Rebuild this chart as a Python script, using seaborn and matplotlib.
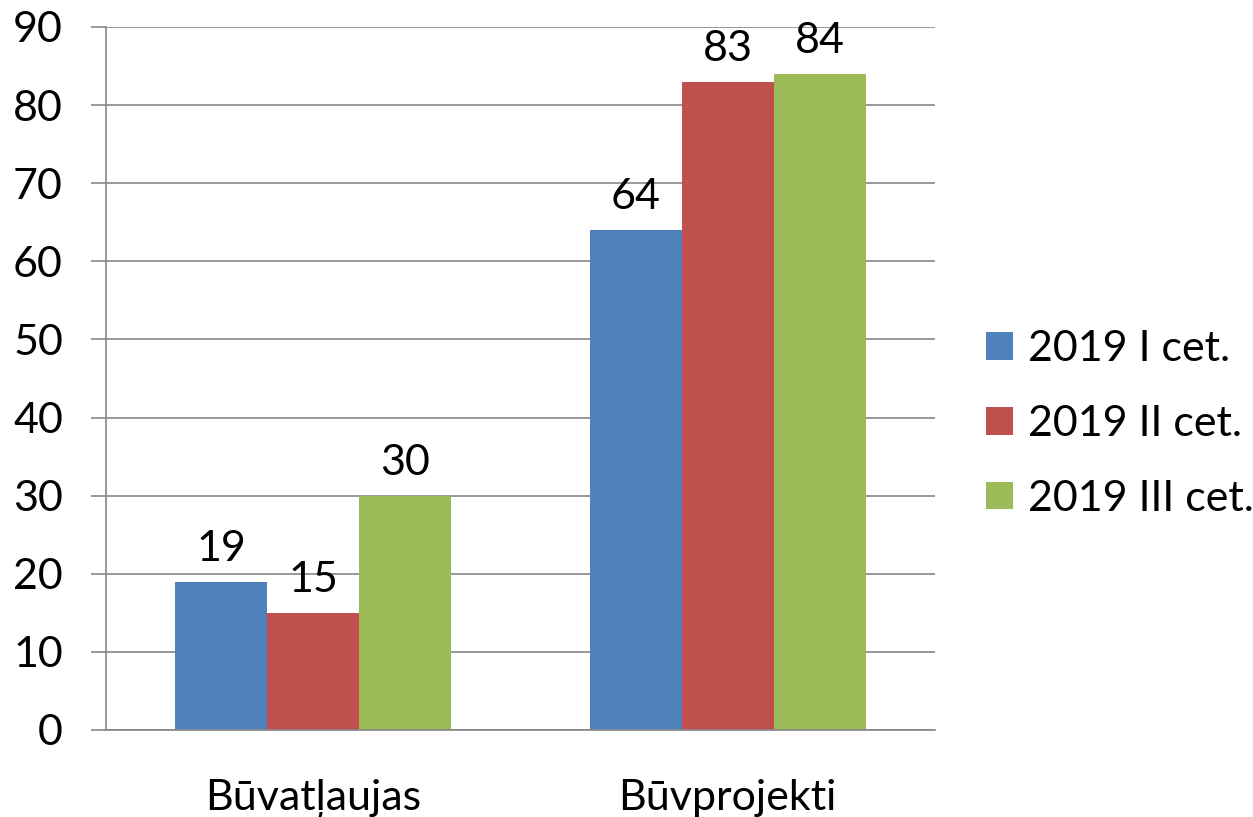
import pandas as pd
import matplotlib
matplotlib.use("Agg")
import matplotlib.pyplot as plt
import seaborn as sns

# dati
kategorijas = ["Būvatļaujas", "Būvprojekti"]
periodi = ["2019 I cet.", "2019 II cet.", "2019 III cet."]
vertibas_I = [19, 64]
vertibas_II = [15, 83]
vertibas_III = [30, 84]
krasas = ["#4F81BD", "#C0504D", "#9BBB59"]

df = pd.DataFrame({
    "kategorija": kategorijas * 3,
    "periods": [periodi[0]] * 2 + [periodi[1]] * 2 + [periodi[2]] * 2,
    "vertiba": vertibas_I + vertibas_II + vertibas_III,
})

sns.set_style("white")
plt.rcParams["font.family"] = ["Lato", "DejaVu Sans"]
plt.rcParams["text.color"] = "black"
plt.rcParams["xtick.labelcolor"] = "black"
plt.rcParams["ytick.labelcolor"] = "black"
fs = 31

fig = plt.figure(figsize=(12.53, 8.17), dpi=100)
ax = fig.add_axes([0.0846, 0.1065, 0.6616, 0.8605])

sns.barplot(data=df, x="kategorija", y="vertiba", hue="periods",
            palette=krasas, width=0.667, saturation=1, ax=ax,
            edgecolor="none", linewidth=0)

for c in ax.containers:
    ax.bar_label(c, fmt="%d", padding=10, fontsize=fs, color="black")

ax.set_ylim(0, 90)
ax.set_xlim(-0.5, 1.5)
ax.set_yticks(range(0, 91, 10))
ax.yaxis.grid(True, color="#868686", linewidth=1.2)
ax.set_axisbelow(True)
ax.set_xlabel("")
ax.set_ylabel("")

for s in ["top", "right"]:
    ax.spines[s].set_visible(False)
for s in ["left", "bottom"]:
    ax.spines[s].set_color("#868686")
    ax.spines[s].set_linewidth(1.2)

ax.set_xticks([-0.5, 0.5, 1.5], minor=True)
ax.tick_params(axis="x", which="major", length=0, pad=35, labelsize=fs)
ax.tick_params(axis="x", which="minor", length=11, width=1.2, color="#868686", direction="out")
ax.tick_params(axis="y", length=11, width=1.2, color="#868686", pad=20, labelsize=fs, left=True)

handles, labels = ax.get_legend_handles_labels()
ax.get_legend().remove()
fig.legend(handles, labels, loc="center left", bbox_to_anchor=(0.770, 0.481),
           frameon=False, fontsize=fs, borderpad=0, labelspacing=0.85,
           handlelength=0.62, handleheight=0.62, handletextpad=0.35)

plt.savefig("out.png", dpi=100)
